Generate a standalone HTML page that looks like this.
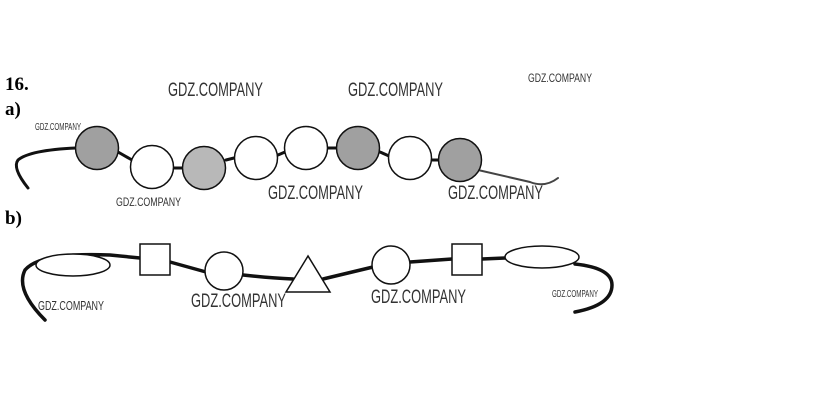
<!DOCTYPE html>
<html><head><style>body{margin:0;background:#fff}svg{display:block}</style></head><body>
<svg width="815" height="417" viewBox="0 0 815 417" xmlns="http://www.w3.org/2000/svg">
<g font-family="Liberation Serif, serif" font-weight="bold" font-size="19" fill="#000">
<text x="5" y="90">16.</text><text x="5" y="115">a)</text><text x="5" y="224">b)</text>
</g>
<g font-family="Liberation Sans, sans-serif" fill="#333" lengthAdjust="spacingAndGlyphs">
<text x="168" y="96" font-size="19" textLength="95" lengthAdjust="spacingAndGlyphs">GDZ.COMPANY</text>
<text x="348" y="96" font-size="19" textLength="95" lengthAdjust="spacingAndGlyphs">GDZ.COMPANY</text>
<text x="528" y="82" font-size="12" textLength="64" lengthAdjust="spacingAndGlyphs">GDZ.COMPANY</text>
<text x="35" y="130" font-size="10" textLength="46" lengthAdjust="spacingAndGlyphs">GDZ.COMPANY</text>
<text x="116" y="206" font-size="12" textLength="65" lengthAdjust="spacingAndGlyphs">GDZ.COMPANY</text>
<text x="268" y="199" font-size="19" textLength="95" lengthAdjust="spacingAndGlyphs">GDZ.COMPANY</text>
<text x="448" y="199" font-size="19" textLength="95" lengthAdjust="spacingAndGlyphs">GDZ.COMPANY</text>
<text x="38" y="310" font-size="13" textLength="66" lengthAdjust="spacingAndGlyphs">GDZ.COMPANY</text>
<text x="191" y="307" font-size="19" textLength="95" lengthAdjust="spacingAndGlyphs">GDZ.COMPANY</text>
<text x="371" y="303" font-size="19" textLength="95" lengthAdjust="spacingAndGlyphs">GDZ.COMPANY</text>
<text x="552" y="297" font-size="10" textLength="46" lengthAdjust="spacingAndGlyphs">GDZ.COMPANY</text>
</g>
<g fill="none" stroke="#111" stroke-linecap="round">
<path d="M28 188 Q12 168 18 160 Q30 150 76 148" stroke-width="3"/>
<path d="M118 152 L132 160 M173 168 L183 168 M226 160 L234 158 M278 155 L285 152 M328 148 L337 148 M380 152 L389 156 M432 160 L438 160" stroke-width="3"/>
<path d="M478 170 L530 182 Q545 188 558 178" stroke-width="2" stroke="#444"/>
</g>
<g stroke="#111" stroke-width="1.5">
<circle cx="97" cy="148" r="21.5" fill="#a0a0a0"/>
<circle cx="152" cy="167" r="21.5" fill="#fff"/>
<circle cx="204" cy="168" r="21.5" fill="#b8b8b8"/>
<circle cx="256" cy="158" r="21.5" fill="#fff"/>
<circle cx="306" cy="148" r="21.5" fill="#fff"/>
<circle cx="358" cy="148" r="21.5" fill="#a0a0a0"/>
<circle cx="410" cy="158" r="21.5" fill="#fff"/>
<circle cx="460" cy="160" r="21.5" fill="#a0a0a0"/>
</g>
<g fill="none" stroke="#111" stroke-width="3.5" stroke-linecap="round">
<path d="M45 320 Q15 290 25 270 Q40 252 110 255 L140 258"/>
<path d="M170 262 L206 272 M243 275 Q270 278 293 279 M323 279 L373 267 M410 262 L452 259 M482 259 L505 258 M575 264 Q612 268 612 285 Q612 305 575 312"/>
</g>
<g stroke="#111" stroke-width="1.5" fill="#fff">
<ellipse cx="73" cy="265" rx="37" ry="11"/>
<rect x="140" y="244" width="30" height="31"/>
<circle cx="224" cy="271" r="19"/>
<polygon points="308,256 286,292 330,292"/>
<circle cx="391" cy="265" r="19"/>
<rect x="452" y="244" width="30" height="31"/>
<ellipse cx="542" cy="257" rx="37" ry="11"/>
</g>
</svg>
</body></html>
